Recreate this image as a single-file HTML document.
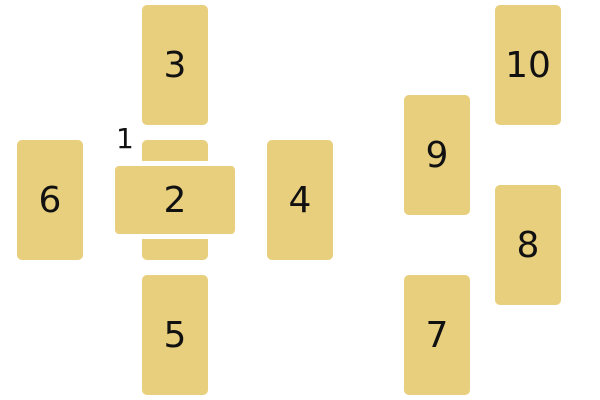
<!DOCTYPE html>
<html><head><style>
body{margin:0;width:600px;height:400px;background:#fff;position:relative;overflow:hidden;font-family:"DejaVu Sans","Liberation Sans",sans-serif}
.c{position:absolute;background:#e8cf7d;border-radius:5px;width:66px;height:120px;display:flex;align-items:center;justify-content:center;font-size:36px;color:#111}
.h{box-sizing:border-box;width:130px;height:78px;border:5px solid #fff;border-radius:9px}
</style></head><body>
<div class="c" style="left:142px;top:5px">3</div>
<div class="c" style="left:17px;top:140px">6</div>
<div class="c" style="left:142px;top:140px"></div>
<div class="c h" style="left:110px;top:161px">2</div>
<div class="c" style="left:267px;top:140px">4</div>
<div class="c" style="left:142px;top:275px">5</div>
<div style="position:absolute;left:116px;top:122px;font-size:28px;color:#111">1</div>
<div class="c" style="left:404px;top:95px">9</div>
<div class="c" style="left:495px;top:5px">10</div>
<div class="c" style="left:495px;top:185px">8</div>
<div class="c" style="left:404px;top:275px">7</div>
</body></html>
